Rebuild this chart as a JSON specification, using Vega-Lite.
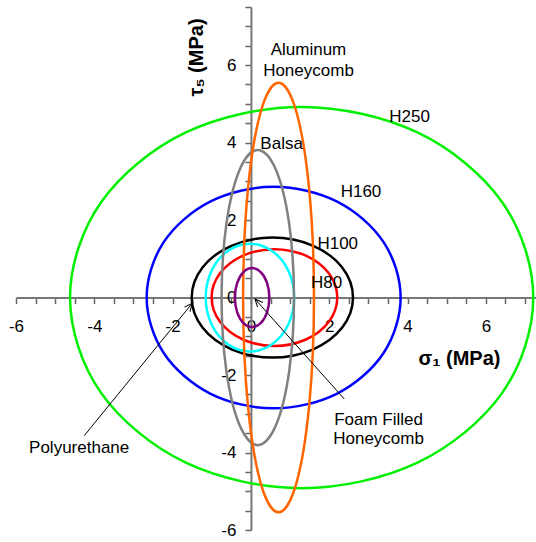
{
  "$schema": "https://vega.github.io/schema/vega-lite/v6.json",
  "width": 520,
  "height": 523,
  "autosize": "none",
  "padding": {"left": 16, "top": 7, "right": 0, "bottom": 12},
  "config": {"view": {"stroke": null}, "font": "Liberation Sans"},
  "encoding": {
    "x": {
      "field": "x", "type": "quantitative",
      "scale": {"domain": [-6, 7.28], "nice": false, "zero": false},
      "axis": {
        "orient": "bottom", "offset": -232.44,
        "values": [-6,-5.5,-5,-4.5,-4,-3.5,-3,-2.5,-2,-1.5,-1,-0.5,0,0.5,1,1.5,2,2.5,3,3.5,4,4.5,5,5.5,6,6.5,7],
        "labelExpr": "datum.value % 2 === 0 ? '' + datum.value : ''",
        "labelFont": "Liberation Sans", "labelFontSize": 17, "labelColor": "#000",
        "labelPadding": 15, "labelOverlap": false, "labelFlush": false, "labelBound": false,
        "tickSize": 6, "tickColor": "#666", "tickWidth": 1.5,
        "domainColor": "#777", "domainWidth": 2, "grid": false,
        "title": "σ₁ (MPa)", "titleFont": "Liberation Sans", "titleFontSize": 20, "titleFontWeight": "bold", "titleColor": "#000",
        "titleX": 443, "titleY": 61, "titleAlign": "center", "titleBaseline": "middle"
      }
    },
    "y": {
      "field": "y", "type": "quantitative",
      "scale": {"domain": [-6, 7.5], "nice": false, "zero": false},
      "axis": {
        "orient": "left", "offset": -234.94,
        "values": [-6,-5.5,-5,-4.5,-4,-3.5,-3,-2.5,-2,-1.5,-1,-0.5,0,0.5,1,1.5,2,2.5,3,3.5,4,4.5,5,5.5,6,6.5,7,7.5],
        "labelExpr": "datum.value % 2 === 0 ? '' + datum.value : ''",
        "labelFont": "Liberation Sans", "labelFontSize": 17, "labelColor": "#000",
        "labelPadding": 9, "labelOverlap": false, "labelFlush": false, "labelBound": false,
        "tickSize": 6, "tickColor": "#666", "tickWidth": 1.5,
        "domainColor": "#777", "domainWidth": 2, "grid": false,
        "title": "τ₅ (MPa)", "titleFont": "Liberation Sans", "titleFontSize": 20, "titleFontWeight": "bold", "titleColor": "#000",
        "titleX": -54, "titleY": 50, "titleAngle": 270, "titleAlign": "center", "titleBaseline": "middle"
      }
    }
  },
  "layer": [
    {
      "data": {"values": [
        {"s":"H250","i":0,"x":7.21,"y":0},{"s":"H250","i":1,"x":6.417,"y":2.46},{"s":"H250","i":2,"x":4.253,"y":4.261},{"s":"H250","i":3,"x":1.295,"y":4.92},{"s":"H250","i":4,"x":-1.663,"y":4.261},{"s":"H250","i":5,"x":-3.827,"y":2.46},{"s":"H250","i":6,"x":-4.62,"y":0},{"s":"H250","i":7,"x":-3.827,"y":-2.46},{"s":"H250","i":8,"x":-1.663,"y":-4.261},{"s":"H250","i":9,"x":1.295,"y":-4.92},{"s":"H250","i":10,"x":4.253,"y":-4.261},{"s":"H250","i":11,"x":6.417,"y":-2.46},
        {"s":"H160","i":0,"x":3.823,"y":0},{"s":"H160","i":1,"x":3.388,"y":1.43},{"s":"H160","i":2,"x":2.202,"y":2.477},{"s":"H160","i":3,"x":0.58,"y":2.86},{"s":"H160","i":4,"x":-1.042,"y":2.477},{"s":"H160","i":5,"x":-2.228,"y":1.43},{"s":"H160","i":6,"x":-2.663,"y":0},{"s":"H160","i":7,"x":-2.228,"y":-1.43},{"s":"H160","i":8,"x":-1.042,"y":-2.477},{"s":"H160","i":9,"x":0.58,"y":-2.86},{"s":"H160","i":10,"x":2.202,"y":-2.477},{"s":"H160","i":11,"x":3.388,"y":-1.43},
        {"s":"H100","i":0,"x":2.607,"y":0},{"s":"H100","i":1,"x":2.331,"y":0.775},{"s":"H100","i":2,"x":1.577,"y":1.342},{"s":"H100","i":3,"x":0.547,"y":1.55},{"s":"H100","i":4,"x":-0.483,"y":1.342},{"s":"H100","i":5,"x":-1.237,"y":0.775},{"s":"H100","i":6,"x":-1.513,"y":0},{"s":"H100","i":7,"x":-1.237,"y":-0.775},{"s":"H100","i":8,"x":-0.483,"y":-1.342},{"s":"H100","i":9,"x":0.547,"y":-1.55},{"s":"H100","i":10,"x":1.577,"y":-1.342},{"s":"H100","i":11,"x":2.331,"y":-0.775},
        {"s":"H80","i":0,"x":2.205,"y":0},{"s":"H80","i":1,"x":1.99,"y":0.625},{"s":"H80","i":2,"x":1.403,"y":1.083},{"s":"H80","i":3,"x":0.6,"y":1.25},{"s":"H80","i":4,"x":-0.203,"y":1.083},{"s":"H80","i":5,"x":-0.79,"y":0.625},{"s":"H80","i":6,"x":-1.005,"y":0},{"s":"H80","i":7,"x":-0.79,"y":-0.625},{"s":"H80","i":8,"x":-0.203,"y":-1.083},{"s":"H80","i":9,"x":0.6,"y":-1.25},{"s":"H80","i":10,"x":1.403,"y":-1.083},{"s":"H80","i":11,"x":1.99,"y":-0.625},
        {"s":"Polyurethane","i":0,"x":1.105,"y":0},{"s":"Polyurethane","i":1,"x":0.954,"y":0.695},{"s":"Polyurethane","i":2,"x":0.54,"y":1.204},{"s":"Polyurethane","i":3,"x":-0.025,"y":1.39},{"s":"Polyurethane","i":4,"x":-0.59,"y":1.204},{"s":"Polyurethane","i":5,"x":-1.004,"y":0.695},{"s":"Polyurethane","i":6,"x":-1.155,"y":0},{"s":"Polyurethane","i":7,"x":-1.004,"y":-0.695},{"s":"Polyurethane","i":8,"x":-0.59,"y":-1.204},{"s":"Polyurethane","i":9,"x":-0.025,"y":-1.39},{"s":"Polyurethane","i":10,"x":0.54,"y":-1.204},{"s":"Polyurethane","i":11,"x":0.954,"y":-0.695},
        {"s":"Balsa","i":0,"x":1.1,"y":0},{"s":"Balsa","i":1,"x":0.976,"y":1.905},{"s":"Balsa","i":2,"x":0.638,"y":3.299},{"s":"Balsa","i":3,"x":0.175,"y":3.81},{"s":"Balsa","i":4,"x":-0.288,"y":3.299},{"s":"Balsa","i":5,"x":-0.626,"y":1.905},{"s":"Balsa","i":6,"x":-0.75,"y":0},{"s":"Balsa","i":7,"x":-0.626,"y":-1.905},{"s":"Balsa","i":8,"x":-0.288,"y":-3.299},{"s":"Balsa","i":9,"x":0.175,"y":-3.81},{"s":"Balsa","i":10,"x":0.638,"y":-3.299},{"s":"Balsa","i":11,"x":0.976,"y":-1.905},
        {"s":"Aluminum Honeycomb","i":0,"x":1.61,"y":0},{"s":"Aluminum Honeycomb","i":1,"x":1.489,"y":2.773},{"s":"Aluminum Honeycomb","i":2,"x":1.158,"y":4.802},{"s":"Aluminum Honeycomb","i":3,"x":0.705,"y":5.545},{"s":"Aluminum Honeycomb","i":4,"x":0.252,"y":4.802},{"s":"Aluminum Honeycomb","i":5,"x":-0.079,"y":2.773},{"s":"Aluminum Honeycomb","i":6,"x":-0.2,"y":0},{"s":"Aluminum Honeycomb","i":7,"x":-0.079,"y":-2.773},{"s":"Aluminum Honeycomb","i":8,"x":0.252,"y":-4.802},{"s":"Aluminum Honeycomb","i":9,"x":0.705,"y":-5.545},{"s":"Aluminum Honeycomb","i":10,"x":1.158,"y":-4.802},{"s":"Aluminum Honeycomb","i":11,"x":1.489,"y":-2.773},
        {"s":"Foam Filled Honeycomb","i":0,"x":0.47,"y":0},{"s":"Foam Filled Honeycomb","i":1,"x":0.411,"y":0.38},{"s":"Foam Filled Honeycomb","i":2,"x":0.25,"y":0.658},{"s":"Foam Filled Honeycomb","i":3,"x":0.03,"y":0.76},{"s":"Foam Filled Honeycomb","i":4,"x":-0.19,"y":0.658},{"s":"Foam Filled Honeycomb","i":5,"x":-0.351,"y":0.38},{"s":"Foam Filled Honeycomb","i":6,"x":-0.41,"y":0},{"s":"Foam Filled Honeycomb","i":7,"x":-0.351,"y":-0.38},{"s":"Foam Filled Honeycomb","i":8,"x":-0.19,"y":-0.658},{"s":"Foam Filled Honeycomb","i":9,"x":0.03,"y":-0.76},{"s":"Foam Filled Honeycomb","i":10,"x":0.25,"y":-0.658},{"s":"Foam Filled Honeycomb","i":11,"x":0.411,"y":-0.38}
      ]},
      "mark": {"type": "line", "interpolate": "cardinal-closed", "strokeWidth": 2.5},
      "encoding": {
        "color": {"field": "s", "type": "nominal", "legend": null,
          "scale": {"domain": ["H250","H160","H100","H80","Polyurethane","Balsa","Aluminum Honeycomb","Foam Filled Honeycomb"],
                    "range": ["#00f000","#0000ff","#000000","#ff0000","#00ffff","#808080","#ff6600","#800080"]}},
        "order": {"field": "i", "type": "quantitative"}
      }
    },
    {
      "data": {"values": [
        {"x": -4.257, "y": -3.565, "x2": -1.499, "y2": -0.147},
        {"x": 2.383, "y": -2.617, "x2": 0.102, "y2": -0.036}
      ]},
      "mark": {"type": "rule", "color": "#000", "strokeWidth": 1},
      "encoding": {"x2": {"field": "x2"}, "y2": {"field": "y2"}}
    },
    {
      "data": {"values": [{"x": -1.499, "y": -0.147}]},
      "mark": {"type": "point", "shape": "M -0.45 1 L 0 0 L 0.45 1", "filled": false, "stroke": "#000", "strokeWidth": 1, "size": 250, "angle": 39.2, "opacity": 1},
      "encoding": {}
    },
    {
      "data": {"values": [{"x": 0.102, "y": -0.036}]},
      "mark": {"type": "point", "shape": "M -0.45 1 L 0 0 L 0.45 1", "filled": false, "stroke": "#000", "strokeWidth": 1, "size": 250, "angle": 318.2, "opacity": 1},
      "encoding": {}
    },
    {
      "data": {"values": [
        {"t": "Aluminum", "x": 1.47, "y": 6.262},
        {"t": "Honeycomb", "x": 1.47, "y": 5.72},
        {"t": "H250", "x": 4.05, "y": 4.54},
        {"t": "Balsa", "x": 0.784, "y": 3.836},
        {"t": "H160", "x": 2.81, "y": 2.6},
        {"t": "H100", "x": 2.217, "y": 1.247},
        {"t": "H80", "x": 1.933, "y": 0.24},
        {"t": "Polyurethane", "x": -4.387, "y": -4.02},
        {"t": "Foam Filled", "x": 3.26, "y": -3.29},
        {"t": "Honeycomb", "x": 3.26, "y": -3.78}
      ]},
      "mark": {"type": "text", "font": "Liberation Sans", "fontSize": 17, "align": "center", "baseline": "alphabetic", "color": "#000"},
      "encoding": {"text": {"field": "t"}}
    }
  ]
}
